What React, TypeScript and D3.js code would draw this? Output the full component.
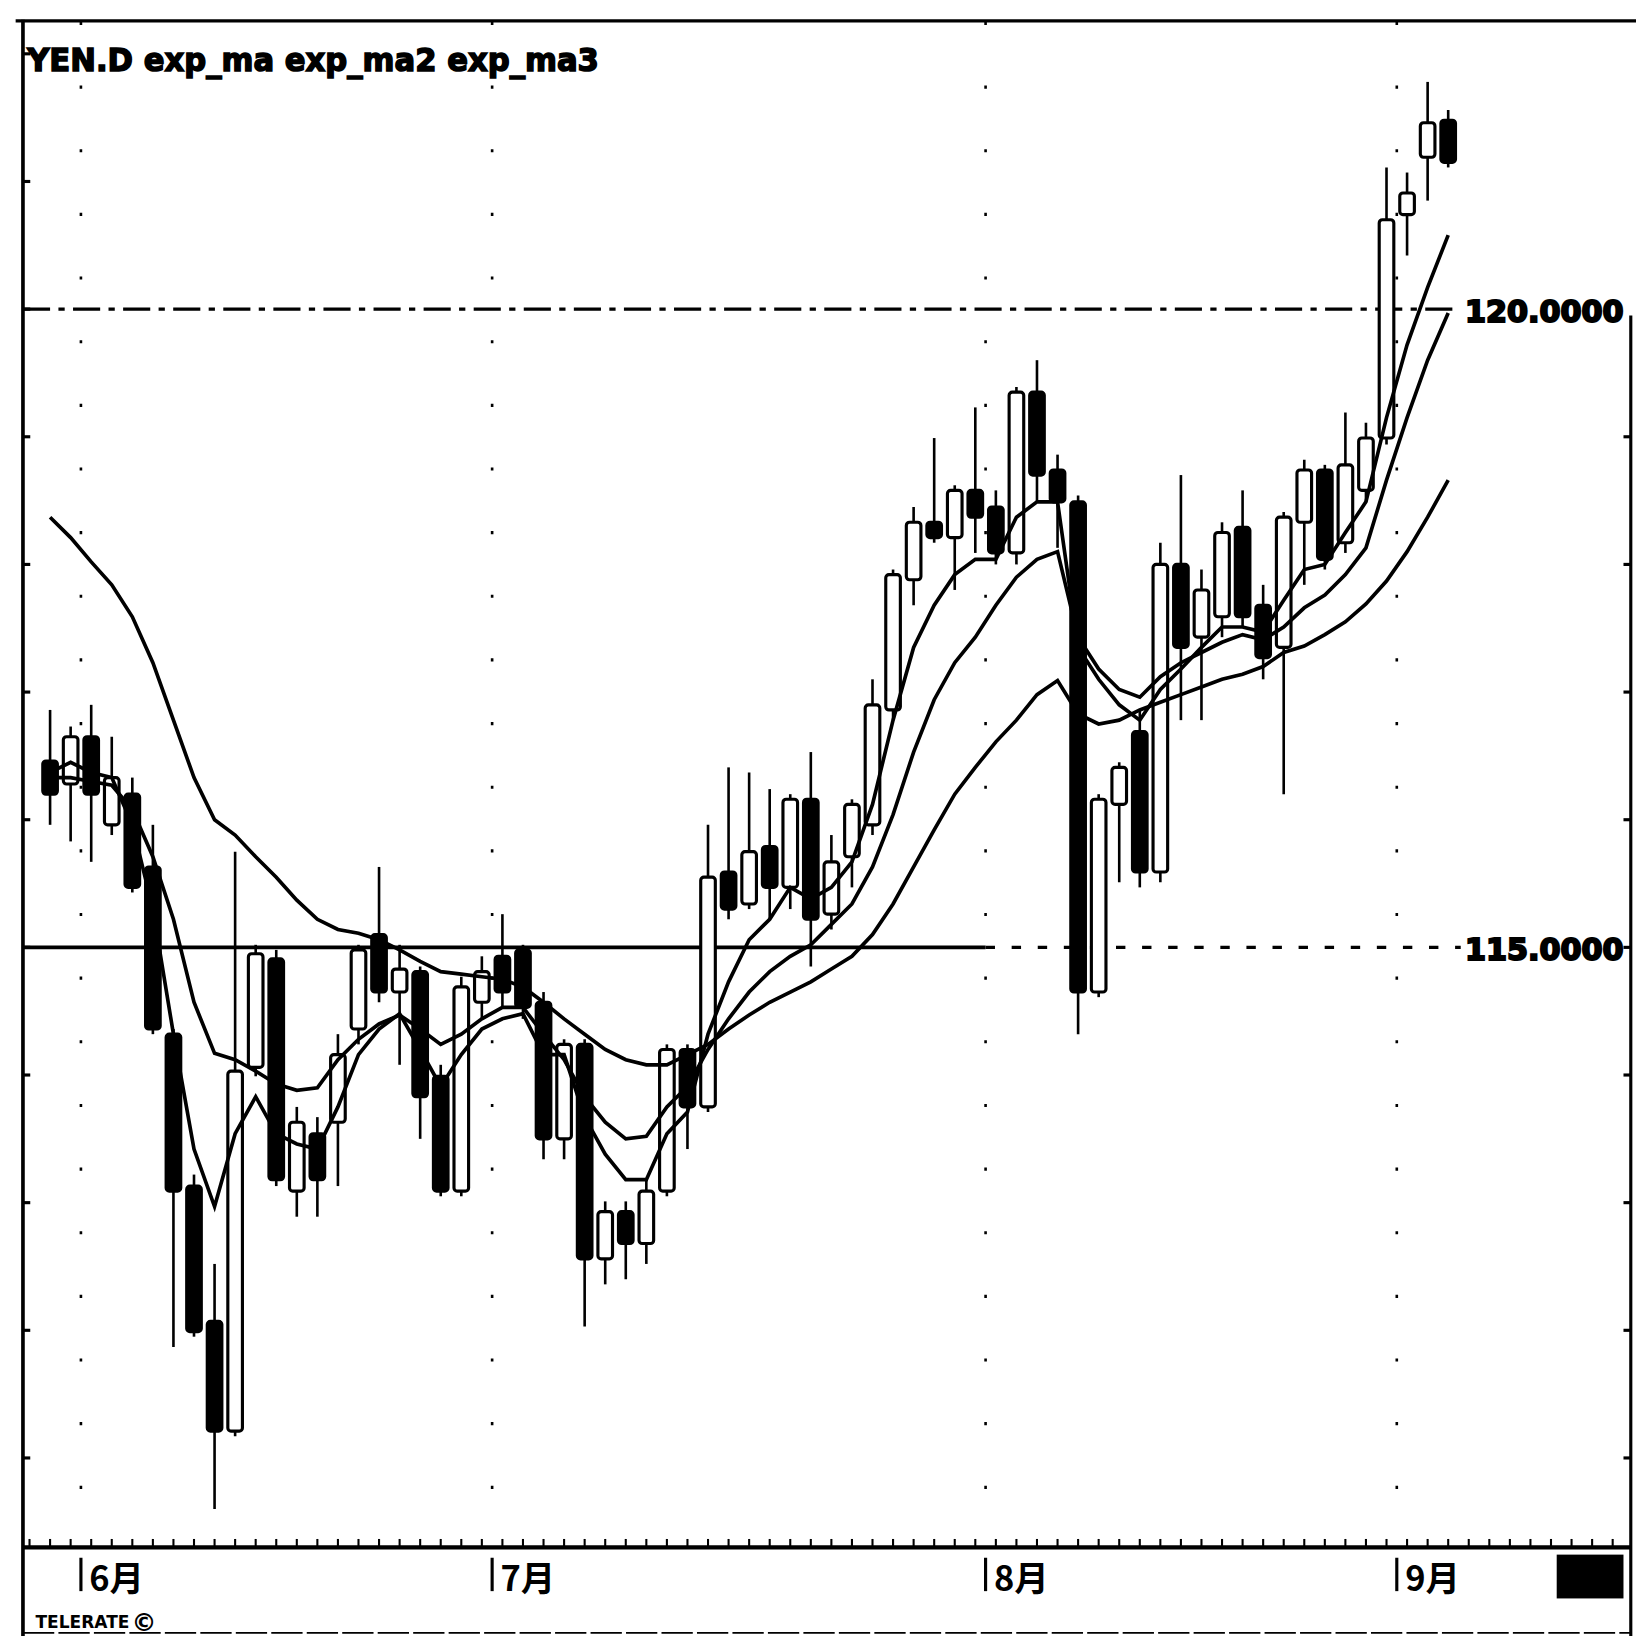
import * as d3 from "d3";
import { useEffect } from "react";

// daily candles, YEN.D
const opens = [
  116.46, 116.28, 116.65, 115.96, 116.2, 115.63, 114.32, 113.13, 112.07, 111.21,
  114.06, 114.91, 113.09, 113.54, 113.63, 114.36, 115.1, 114.65, 114.81, 113.99,
  113.09, 114.57, 114.93, 114.98, 114.57, 113.5, 114.24, 112.56, 112.93, 112.68,
  113.09, 114.2, 113.75, 115.59, 115.34, 115.79, 115.47, 116.16, 115.26, 115.71,
  115.96, 116.86, 117.88, 118.33, 118.21, 118.58, 118.45, 118.09, 119.35, 118.74,
  118.49, 114.65, 116.12, 116.69, 115.59, 118.0, 117.43, 117.59, 118.29, 117.68,
  117.35, 118.33, 118.74, 118.17, 118.58, 118.99, 120.74, 121.19, 121.48,
];
const highs = [
  116.86, 116.73, 116.9, 116.65, 116.33, 115.96, 114.36, 113.22, 112.52, 115.75,
  115.02, 114.98, 113.75, 113.67, 114.32, 115.02, 115.63, 115.02, 114.85, 114.08,
  114.77, 114.93, 115.26, 115.02, 114.65, 114.28, 114.28, 113.01, 113.01, 113.18,
  114.24, 114.24, 115.96, 116.41, 116.37, 116.24, 116.2, 116.53, 115.88, 116.16,
  117.1, 117.96, 118.45, 118.99, 118.62, 119.23, 118.58, 119.39, 119.6, 118.86,
  118.54, 116.2, 116.45, 116.86, 118.17, 118.7, 117.96, 118.33, 118.58, 117.84,
  118.41, 118.82, 118.78, 119.19, 119.11, 121.11, 121.07, 121.78, 121.56,
];
const lows = [
  115.96, 115.83, 115.67, 115.88, 115.43, 114.32, 111.87, 111.95, 110.6, 111.17,
  113.99, 113.13, 112.89, 112.89, 113.13, 114.24, 114.57, 114.08, 113.5, 113.05,
  113.05, 114.44, 114.53, 114.44, 113.34, 113.34, 112.03, 112.36, 112.4, 112.52,
  113.05, 113.42, 113.71, 115.22, 115.3, 115.22, 115.3, 114.85, 115.14, 115.47,
  115.88, 116.78, 117.68, 118.17, 117.8, 118.09, 118.0, 118.0, 118.49, 118.13,
  114.32, 114.61, 115.51, 115.47, 115.51, 116.78, 116.78, 117.43, 117.51, 117.1,
  116.2, 117.84, 117.96, 118.09, 118.49, 118.94, 120.42, 120.85, 121.11,
];
const closes = [
  116.2, 116.65, 116.2, 116.33, 115.47, 114.36, 113.09, 111.99, 111.21, 114.03,
  114.95, 113.18, 113.63, 113.18, 114.16, 114.98, 114.65, 114.83, 113.83, 113.09,
  114.69, 114.81, 114.65, 114.53, 113.5, 114.24, 112.56, 112.93, 112.68, 113.09,
  114.2, 113.75, 115.55, 115.3, 115.75, 115.47, 116.16, 115.22, 115.67, 116.12,
  116.9, 117.92, 118.33, 118.21, 118.58, 118.37, 118.09, 119.35, 118.7, 118.49,
  114.65, 116.16, 116.41, 115.59, 118.0, 117.35, 117.8, 118.25, 117.59, 117.27,
  118.37, 118.74, 118.04, 118.78, 118.99, 120.7, 120.91, 121.46, 121.15,
];

// moving averages as drawn
const expMa = [
  116.37, 116.45, 116.37, 116.33, 115.96, 115.3, 114.32, 113.42, 112.97, 113.54,
  113.83, 113.54, 113.46, 113.42, 113.75, 114.16, 114.36, 114.48, 114.2, 113.91,
  114.16, 114.36, 114.44, 114.48, 114.16, 114.16, 113.67, 113.38, 113.18, 113.18,
  113.54, 113.71, 114.32, 114.73, 115.06, 115.22, 115.47, 115.38, 115.47, 115.67,
  116.12, 116.78, 117.35, 117.68, 117.92, 118.04, 118.04, 118.37, 118.49, 118.49,
  117.35, 117.1, 116.9, 116.78, 117.02, 117.18, 117.35, 117.51, 117.51, 117.47,
  117.72, 117.96, 118.0, 118.25, 118.49, 119.15, 119.72, 120.17, 120.58,
];
const expMa2 = [
  116.33, 116.33, 116.3, 116.27, 116.08, 115.71, 115.22, 114.57, 114.17, 114.12,
  114.03, 113.93, 113.88, 113.9, 114.12, 114.28, 114.4, 114.47, 114.36, 114.24,
  114.32, 114.44, 114.53, 114.53, 114.32, 114.12, 113.83, 113.63, 113.5, 113.52,
  113.75, 113.91, 114.2, 114.44, 114.65, 114.81, 114.93, 115.02, 115.18, 115.34,
  115.63, 116.04, 116.53, 116.94, 117.23, 117.43, 117.68, 117.9, 118.04, 118.1,
  117.43, 117.18, 117.02, 116.96, 117.12, 117.23, 117.31, 117.39, 117.45, 117.41,
  117.51, 117.66, 117.76, 117.92, 118.13, 118.66, 119.15, 119.6, 119.97,
];
const expMa3 = [
  118.37, 118.21, 118.02, 117.84, 117.59, 117.23, 116.78, 116.33, 116.0, 115.88,
  115.71, 115.55, 115.37, 115.22, 115.14, 115.11, 115.06, 114.98, 114.89, 114.81,
  114.79, 114.77, 114.75, 114.69, 114.57, 114.44, 114.32, 114.2, 114.12, 114.08,
  114.08, 114.16, 114.24, 114.36, 114.47, 114.57, 114.65, 114.73, 114.83, 114.93,
  115.1, 115.34, 115.63, 115.92, 116.2, 116.41, 116.61, 116.78, 116.98, 117.09,
  116.83, 116.75, 116.78, 116.86, 116.92, 116.98, 117.04, 117.1, 117.14, 117.2,
  117.31, 117.36, 117.45, 117.55, 117.69, 117.87, 118.1, 118.37, 118.66,
];

const months = ["6月", "7月", "8月", "9月"];
const monthStart = [2, 22, 46, 66];
const refLevels = [120, 115];
const refLabels = ["120.0000", "115.0000"];
const title = "YEN.D exp_ma exp_ma2 exp_ma3";

const W = 1568;
const plot = { left: 22, right: 1563, top: 21, bottom: 1483 };

const App = () => {
  useEffect(() => {
    document.body.style.margin = "0";
    document.body.style.overflow = "hidden";
  }, []);

  const n = closes.length;
  const x = d3.scaleLinear().domain([0, n - 1]).range([48, 1388]);
  const y = d3.scaleLinear().domain([110.3, 122.25]).range([plot.bottom, plot.top]);
  const step = x(1) - x(0);
  const bodyW = 14;

  const line = d3
    .line<number>()
    .x((_, i) => x(i))
    .y((d) => y(d));

  const boundary = (i: number) => x(monthStart[i] - 0.5);
  const priceTicks = d3.range(111, 123);
  const dayTicks = d3.range(-1, Math.floor((plot.right - x(0)) / step) + 1);
  const fontBold = "'DejaVu Sans', 'Liberation Sans', sans-serif";

  return (
    <svg
      width={1636}
      height={1636}
      viewBox={`0 0 ${W} ${W}`}
      style={{ position: "absolute", left: 0, top: 0, background: "#fff" }}
    >
      <rect x={0} y={0} width={W} height={W} fill="#fff" />

      {/* month dotted verticals */}
      {months.map((m, i) => (
        <line
          key={`vg-${m}`}
          x1={boundary(i)}
          x2={boundary(i)}
          y1={plot.top}
          y2={plot.bottom}
          stroke="#000"
          strokeWidth={2.5}
          strokeDasharray="3,58"
        />
      ))}

      {/* reference levels */}
      <line
        x1={plot.left}
        x2={1400}
        y1={y(refLevels[0])}
        y2={y(refLevels[0])}
        stroke="#000"
        strokeWidth={3}
        strokeDasharray="26,8,6,8"
      />
      <line
        x1={plot.left}
        x2={boundary(2)}
        y1={y(refLevels[1])}
        y2={y(refLevels[1])}
        stroke="#000"
        strokeWidth={3.5}
      />
      <line
        x1={boundary(2)}
        x2={1400}
        y1={y(refLevels[1])}
        y2={y(refLevels[1])}
        stroke="#000"
        strokeWidth={3}
        strokeDasharray="9,16"
      />

      {/* candles */}
      {closes.map((c, i) => {
        const o = opens[i];
        const up = c >= o;
        const top = y(Math.max(o, c));
        const bot = y(Math.min(o, c));
        return (
          <g key={`c-${i}`}>
            <line
              x1={x(i)}
              x2={x(i)}
              y1={y(highs[i])}
              y2={y(lows[i])}
              stroke="#000"
              strokeWidth={2.5}
            />
            <rect
              x={x(i) - bodyW / 2}
              y={top}
              width={bodyW}
              height={Math.max(bot - top, 3)}
              rx={3}
              fill={up ? "#fff" : "#000"}
              stroke="#000"
              strokeWidth={3}
            />
          </g>
        );
      })}

      {/* moving averages */}
      <path d={line(expMa3) || ""} fill="none" stroke="#000" strokeWidth={3.5} />
      <path d={line(expMa2) || ""} fill="none" stroke="#000" strokeWidth={3.5} />
      <path d={line(expMa) || ""} fill="none" stroke="#000" strokeWidth={3.5} />

      {/* level labels */}
      {refLevels.map((lv, i) => (
        <text
          key={`lv-${lv}`}
          x={1404}
          y={y(lv) + 12}
          fontFamily={fontBold}
          fontWeight={900}
          fontSize={29}
          textLength={152}
          lengthAdjust="spacingAndGlyphs"
          fill="#000"
          stroke="#000"
          strokeWidth={2}
        >
          {refLabels[i]}
        </text>
      ))}

      {/* frame */}
      <line x1={15} x2={W} y1={plot.top - 1} y2={plot.top - 1} stroke="#000" strokeWidth={3} />
      <line x1={plot.left} x2={plot.left} y1={plot.top - 2} y2={W} stroke="#000" strokeWidth={3.5} />
      <line x1={plot.right} x2={plot.right} y1={y(120) + 6} y2={W} stroke="#000" strokeWidth={3} />
      <line x1={plot.left} x2={plot.right} y1={plot.bottom} y2={plot.bottom} stroke="#000" strokeWidth={4} />
      <line
        x1={plot.left}
        x2={plot.right}
        y1={W - 3}
        y2={W - 3}
        stroke="#000"
        strokeWidth={1.5}
        strokeDasharray="30,4"
      />

      {/* price ticks */}
      {priceTicks.map((t) => (
        <line key={`lt-${t}`} x1={plot.left} x2={plot.left + 7} y1={y(t)} y2={y(t)} stroke="#000" strokeWidth={3} />
      ))}
      {priceTicks
        .filter((t) => t < 120)
        .map((t) => (
          <line key={`rt-${t}`} x1={plot.right - 7} x2={plot.right} y1={y(t)} y2={y(t)} stroke="#000" strokeWidth={3} />
        ))}

      {/* day ticks */}
      {dayTicks.map((d) => (
        <line
          key={`dt-${d}`}
          x1={x(d)}
          x2={x(d)}
          y1={plot.bottom}
          y2={plot.bottom - 8}
          stroke="#000"
          strokeWidth={2}
        />
      ))}

      {/* month labels */}
      {months.map((m, i) => (
        <g key={`ml-${m}`}>
          <line
            x1={boundary(i)}
            x2={boundary(i)}
            y1={plot.bottom + 10}
            y2={plot.bottom + 42}
            stroke="#000"
            strokeWidth={3}
          />
          <text
            x={boundary(i) + 8}
            y={plot.bottom + 42}
            fontFamily="'Noto Sans CJK SC', sans-serif"
            fontWeight={700}
            fontSize={33}
            fill="#000"
          >
            {m}
          </text>
        </g>
      ))}

      {/* title */}
      <text
        x={26}
        y={68}
        fontFamily={fontBold}
        fontWeight={900}
        fontSize={31}
        textLength={548}
        lengthAdjust="spacingAndGlyphs"
        fill="#000"
        stroke="#000"
        strokeWidth={1.5}
      >
        {title}
      </text>

      {/* source & corner block */}
      <text
        x={34}
        y={1560}
        fontFamily={fontBold}
        fontWeight={900}
        fontSize={17}
        textLength={90}
        lengthAdjust="spacingAndGlyphs"
        fill="#000"
      >
        TELERATE
      </text>
      <text x={126} y={1563} fontFamily={fontBold} fontWeight={900} fontSize={24} fill="#000">
        ©
      </text>
      <rect x={1492} y={1490} width={64} height={42} fill="#000" />
    </svg>
  );
};

export default App;
